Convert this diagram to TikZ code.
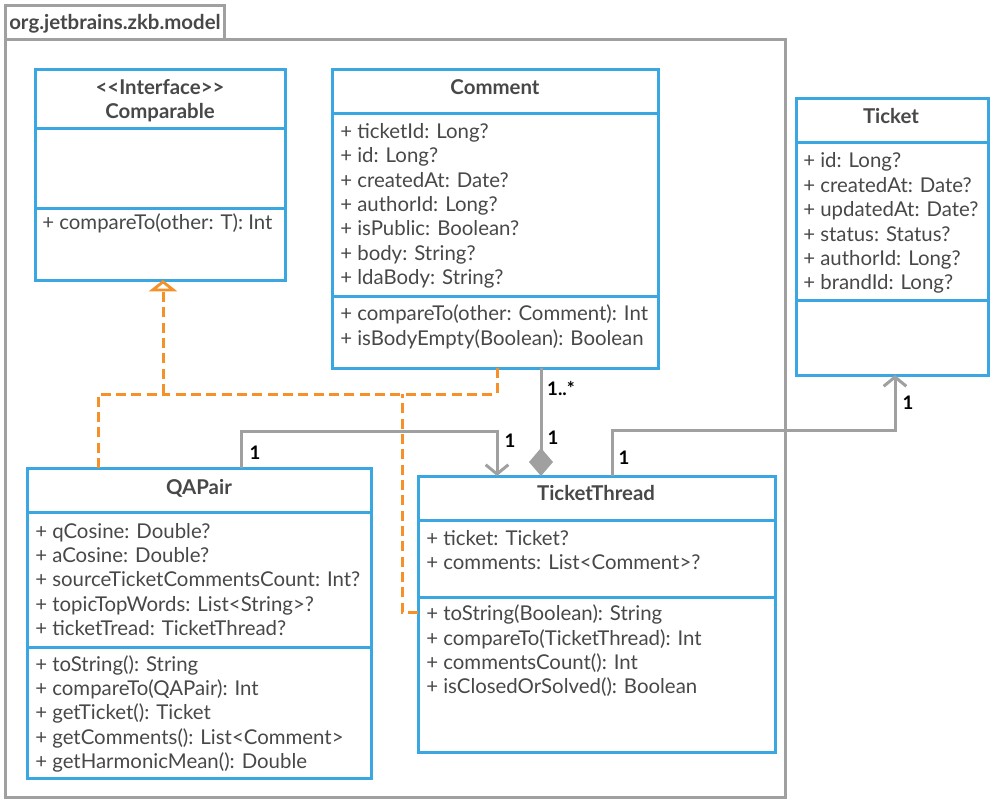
\documentclass[tikz,border=0pt]{standalone}
\usepackage{fontspec}
\setmainfont{Lato}
\usetikzlibrary{arrows.meta,calc}
\definecolor{umlblue}{RGB}{59,167,226}
\definecolor{umlorange}{RGB}{245,145,40}
\definecolor{umlgray}{RGB}{160,160,160}
\definecolor{umltext}{RGB}{72,72,72}
\tikzset{
  cls/.style={draw=umlblue, line width=2.25pt, fill=white, inner sep=0pt, outer sep=0pt, anchor=north west},
  sep/.style={draw=umlblue, line width=2.25pt},
  pkg/.style={draw=umlgray, line width=2.25pt, inner sep=0pt, outer sep=0pt, anchor=north west},
  mem/.style={anchor=west, inner sep=0pt, text=umltext, font=\fontsize{15.3}{18}\selectfont, text height=12.5pt, text depth=1pt},
  ttl/.style={anchor=center, inner sep=0pt, text=umltext, font=\fontsize{15.3}{18}\selectfont\bfseries, text height=12.5pt, text depth=1pt},
  mult/.style={inner sep=0pt, text=black, font=\fontsize{14}{16}\selectfont\bfseries},
  assoc/.style={draw=umlgray, line width=2.25pt, -{Straight Barb[length=7pt,width=17pt,line width=2.25pt]}},
  compo/.style={draw=umlgray, line width=2.25pt, {Diamond[length=21pt,width=18pt,fill=umlgray]}-},
  real/.style={draw=umlorange, line width=2.25pt, dash pattern=on 7.5pt off 4pt},
  realtip/.style={real, -{Triangle[open,length=8.5pt,width=21pt,fill=white,line width=2.25pt]}},
}
\begin{document}
\begin{tikzpicture}[x=0.75pt,y=-0.75pt]
\useasboundingbox (0,0) rectangle (995,804);
% package
\node[pkg, minimum width=780*0.75pt, minimum height=758*0.75pt] (frame) at (5,39) {};
\node[pkg, minimum width=219*0.75pt, minimum height=34*0.75pt] (tab) at (5,5) {};
\node[anchor=west, inner sep=0pt, text=umltext, font=\fontsize{15.3}{18}\selectfont\bfseries, text height=12.5pt, text depth=1pt] (pkgname) at (9,22) {org.jetbrains.zkb.model};

% Comparable
\node[cls, minimum width=250*0.75pt, minimum height=211*0.75pt] (cmp) at (35,69) {};
\draw[sep] (cmp.west |- 0,128) -- (cmp.east |- 0,128);
\draw[sep] (cmp.west |- 0,208) -- (cmp.east |- 0,208);
\node[ttl] (cmps) at (160,87) {<{}<Interface>{}>};
\node[ttl] (cmpt) at (160,111) {Comparable};
\node[mem] (cmpm1) at (42,222) {+ compareTo(other: T): Int};

% Comment
\node[cls, minimum width=326*0.75pt, minimum height=299*0.75pt] (cmt) at (332,69) {};
\draw[sep] (cmt.west |- 0,113) -- (cmt.east |- 0,113);
\draw[sep] (cmt.west |- 0,296) -- (cmt.east |- 0,296);
\node[ttl] (cmtt) at (495,87) {Comment};
\node[mem] (cmta1) at (340,131) {+ ticketId: Long?};
\node[mem] (cmta2) at (340,155) {+ id: Long?};
\node[mem] (cmta3) at (340,180) {+ createdAt: Date?};
\node[mem] (cmta4) at (340,204) {+ authorId: Long?};
\node[mem] (cmta5) at (340,228) {+ isPublic: Boolean?};
\node[mem] (cmta6) at (340,253) {+ body: String?};
\node[mem] (cmta7) at (340,277) {+ ldaBody: String?};
\node[mem] (cmtm1) at (340,313) {+ compareTo(other: Comment): Int};
\node[mem] (cmtm2) at (340,338) {+ isBodyEmpty(Boolean): Boolean};

% Ticket
\node[cls, minimum width=192*0.75pt, minimum height=277*0.75pt] (tk) at (796,98) {};
\draw[sep] (tk.west |- 0,142) -- (tk.east |- 0,142);
\draw[sep] (tk.west |- 0,300) -- (tk.east |- 0,300);
\node[ttl] (tkt) at (891,116) {Ticket};
\node[mem] (tka1) at (803,160) {+ id: Long?};
\node[mem] (tka2) at (803,185) {+ createdAt: Date?};
\node[mem] (tka3) at (803,209) {+ updatedAt: Date?};
\node[mem] (tka4) at (803,234) {+ status: Status?};
\node[mem] (tka5) at (803,258) {+ authorId: Long?};
\node[mem] (tka6) at (803,282) {+ brandId: Long?};

% QAPair
\node[cls, minimum width=344*0.75pt, minimum height=310*0.75pt] (qa) at (27,468) {};
\draw[sep] (qa.west |- 0,512) -- (qa.east |- 0,512);
\draw[sep] (qa.west |- 0,647) -- (qa.east |- 0,647);
\node[ttl] (qat) at (199,487) {QAPair};
\node[mem] (qaa1) at (35,531) {+ qCosine: Double?};
\node[mem] (qaa2) at (35,555) {+ aCosine: Double?};
\node[mem] (qaa3) at (35,579) {+ sourceTicketCommentsCount: Int?};
\node[mem] (qaa4) at (35,604) {+ topicTopWords: List<String>?};
\node[mem] (qaa5) at (35,628) {+ ticketTread: TicketThread?};
\node[mem] (qam1) at (35,664) {+ toString(): String};
\node[mem] (qam2) at (35,688) {+ compareTo(QAPair): Int};
\node[mem] (qam3) at (35,712) {+ getTicket(): Ticket};
\node[mem] (qam4) at (35,737) {+ getComments(): List<Comment>};
\node[mem] (qam5) at (35,761) {+ getHarmonicMean(): Double};

% TicketThread
\node[cls, minimum width=357*0.75pt, minimum height=276*0.75pt] (tt) at (418,476) {};
\draw[sep] (tt.west |- 0,520) -- (tt.east |- 0,520);
\draw[sep] (tt.west |- 0,597) -- (tt.east |- 0,597);
\node[ttl] (ttt) at (596,493) {TicketThread};
\node[mem] (tta1) at (426,538) {+ ticket: Ticket?};
\node[mem] (tta2) at (426,562) {+ comments: List<Comment>?};
\node[mem] (ttm1) at (426,613) {+ toString(Boolean): String};
\node[mem] (ttm2) at (426,638) {+ compareTo(TicketThread): Int};
\node[mem] (ttm3) at (426,662) {+ commentsCount(): Int};
\node[mem] (ttm4) at (426,686) {+ isClosedOrSolved(): Boolean};

% realizations
\coordinate (rj) at (163,394);
\draw[real] ($(cmt.south west)+(165,0)$) |- (rj);
\draw[real] ($(qa.north west)+(71,0)$) |- (rj);
\draw[real] (tt.west |- 0,612) -| (402,394);
\draw[realtip] (rj) -- (cmp.south -| rj);

% associations
\draw[assoc] ($(qa.north west)+(214,0)$) |- (497,431) -- (tt.north -| 497,0);
\draw[assoc] ($(tt.north west)+(194,0)$) |- (895,430) -- (tk.south -| 895,0);
\draw[compo] (tt.north -| 541,0) -- (cmt.south -| 541,0);

% multiplicities
\node[mult] (m1) at (255,453) {1};
\node[mult] (m2) at (510,441) {1};
\node[mult] (m3) at (561,388) {1..*};
\node[mult] (m4) at (553,438) {1};
\node[mult] (m5) at (624,458) {1};
\node[mult] (m6) at (908,403) {1};
\end{tikzpicture}
\end{document}
